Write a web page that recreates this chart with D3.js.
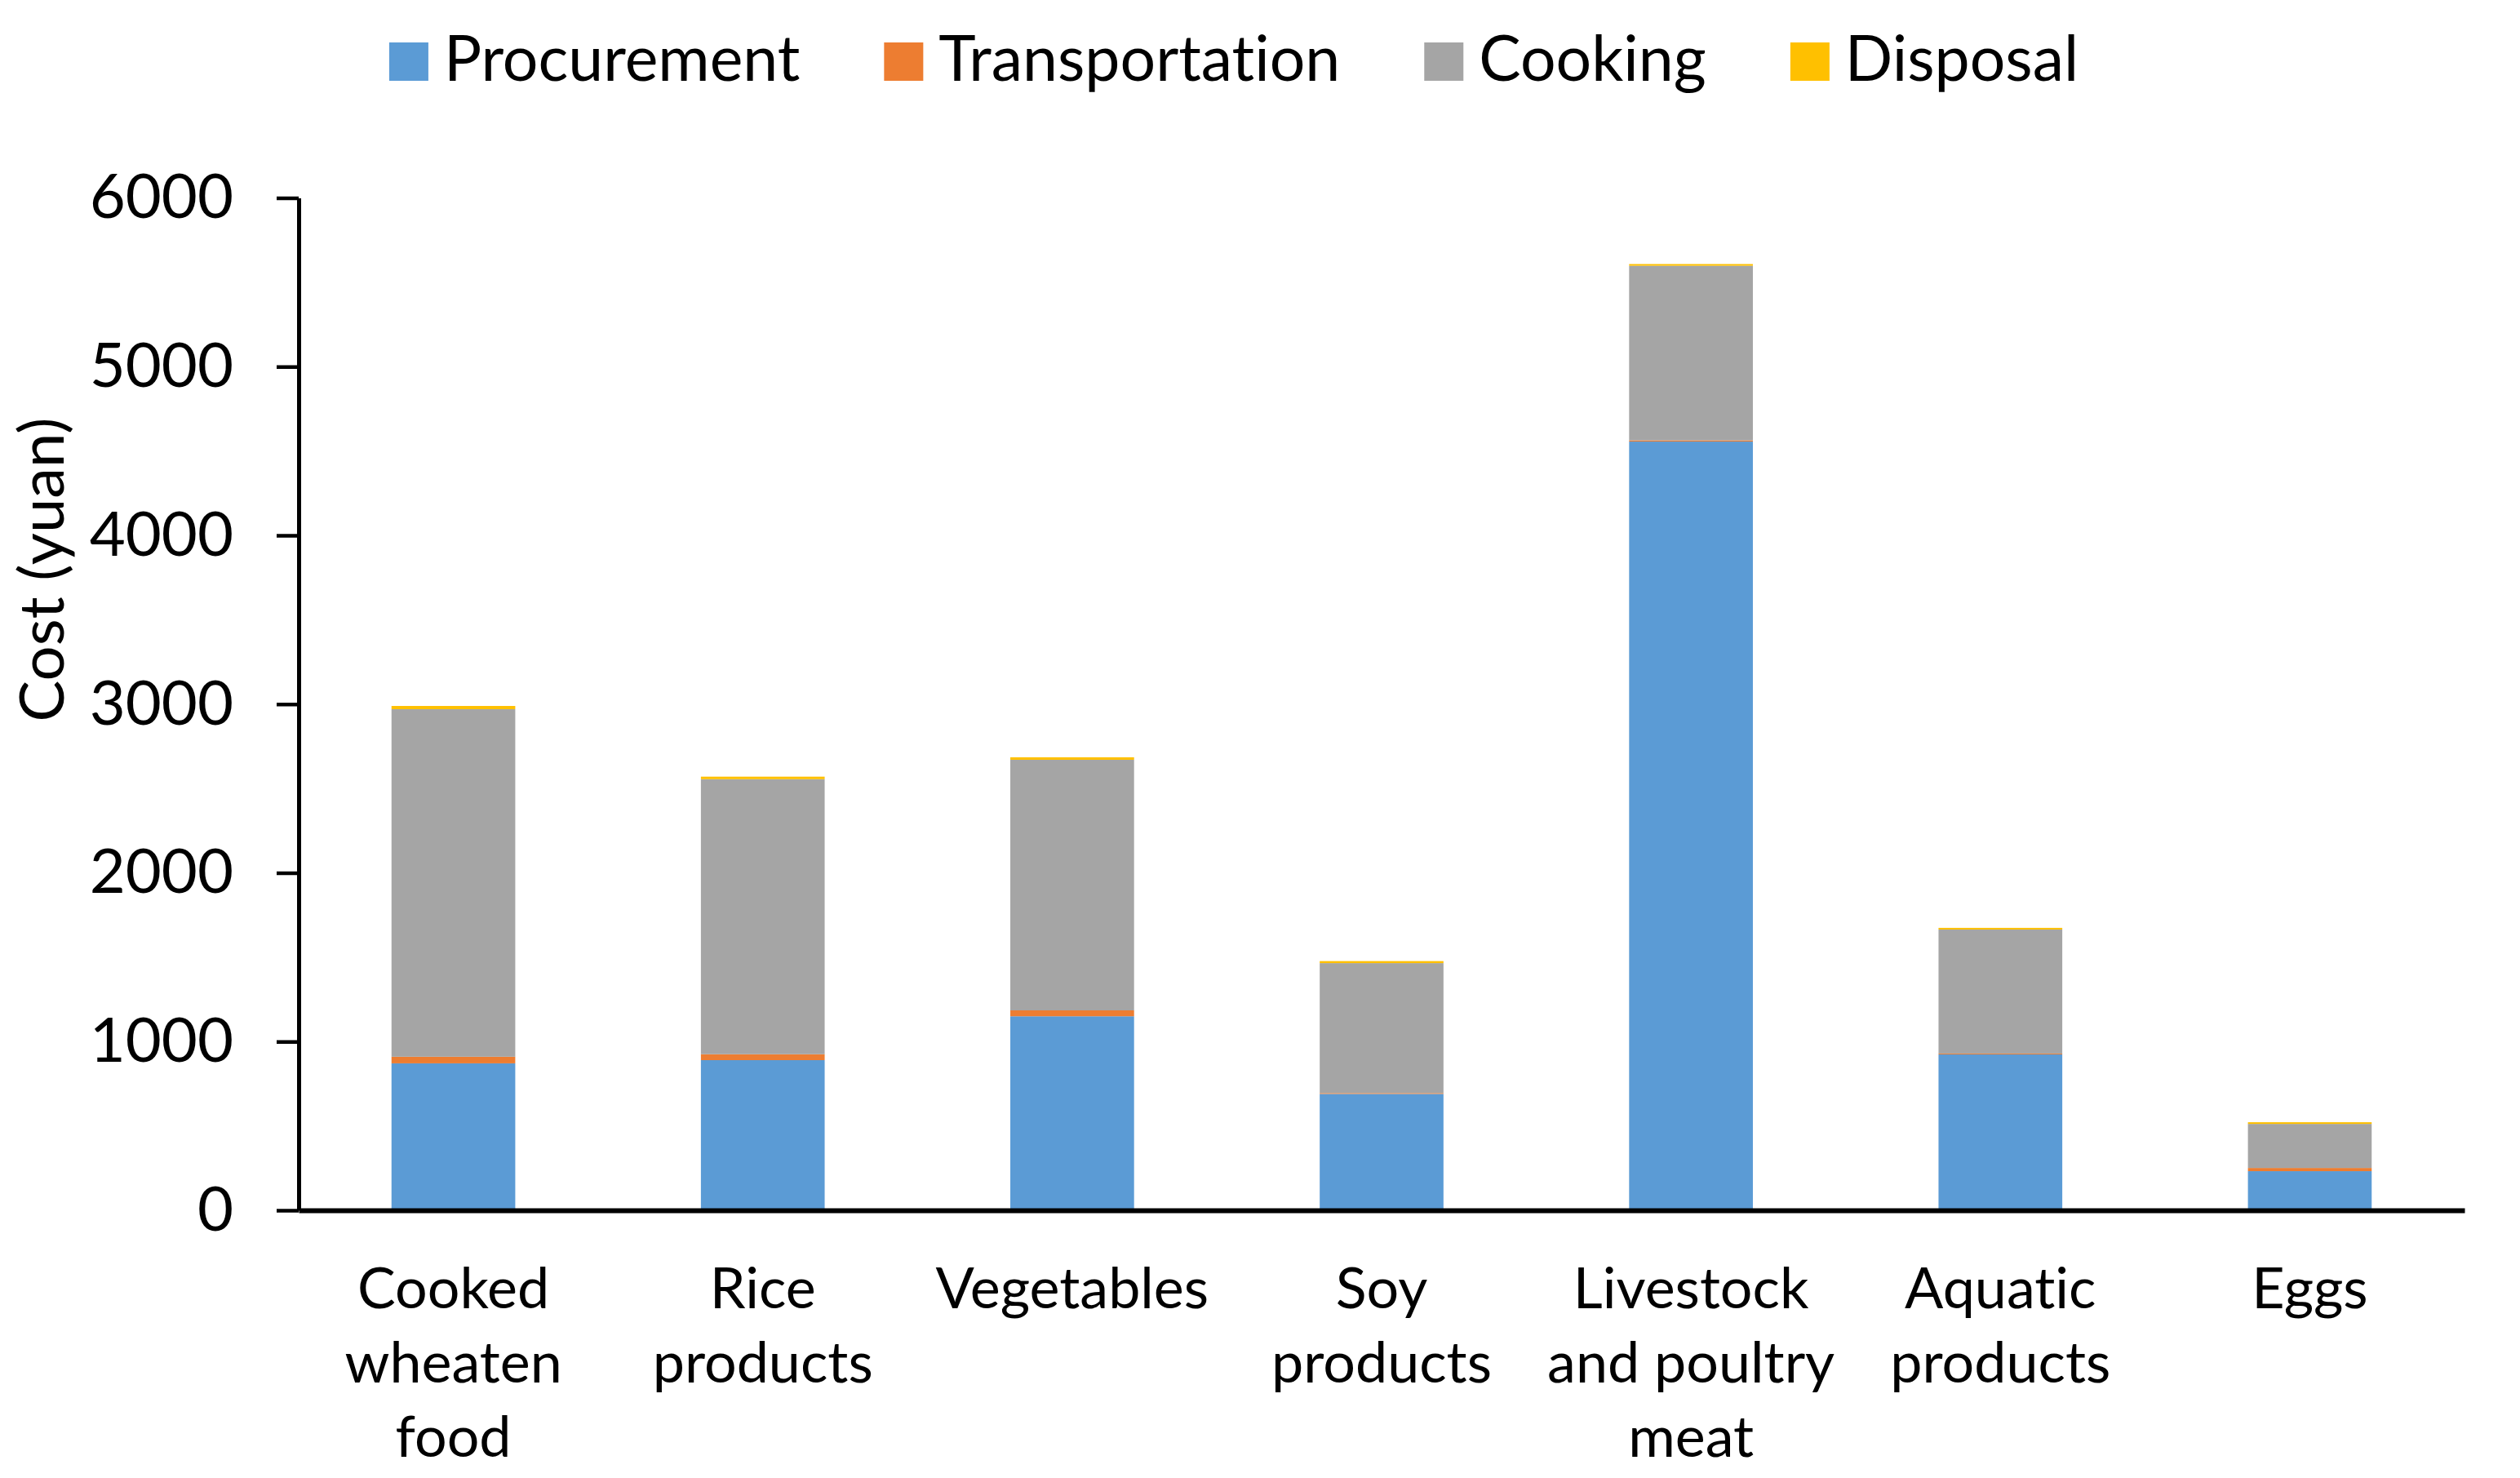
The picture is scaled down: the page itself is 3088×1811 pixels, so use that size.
<!DOCTYPE html>
<html>
<head>
<meta charset="utf-8">
<script src="https://cdn.jsdelivr.net/npm/d3@7"></script>
<style>
  body { margin: 0; background: #fff; }
  text { font-family: Lato, "Open Sans", sans-serif; fill: #000; font-variant-ligatures: none; }
</style>
</head>
<body>
<div id="chart"></div>
<script>
// chart values
var categories = ["Cooked wheaten food", "Rice products", "Vegetables", "Soy products",
  "Livestock and poultry meat", "Aquatic products", "Eggs"];
var categoryLines = [["Cooked", "wheaten", "food"], ["Rice", "products"], ["Vegetables"],
  ["Soy", "products"], ["Livestock", "and poultry", "meat"], ["Aquatic", "products"], ["Eggs"]];
var seriesNames = ["Procurement", "Transportation", "Cooking", "Disposal"];
var procurement = [871, 890, 1150, 690, 4556, 924, 232];
var transportation = [39, 35, 35, 5, 7, 5, 19];
var cooking = [2060, 1630, 1485, 770, 1035, 735, 261];
var disposal = [19, 15, 15, 12, 10, 10, 10];
var yTicks = [0, 1000, 2000, 3000, 4000, 5000, 6000];
var colors = ["#5B9BD5", "#ED7D31", "#A5A5A5", "#FFC000"];

var svgWidth = 3088;
var svgHeight = 1811;

var margin = { top: 242.5, right: 68, bottom: 328, left: 366 };
var width = svgWidth - margin.left - margin.right;
var height = svgHeight - margin.top - margin.bottom;

var svg = d3.select("#chart")
  .append("svg")
  .attr("width", svgWidth)
  .attr("height", svgHeight);

var chartGroup = svg.append("g")
  .attr("transform", `translate(${margin.left}, ${margin.top})`);

// build rows for the stack
var rows = categories.map(function(c, i) {
  return {
    category: c,
    Procurement: procurement[i],
    Transportation: transportation[i],
    Cooking: cooking[i],
    Disposal: disposal[i]
  };
});

var stacked = d3.stack().keys(seriesNames)(rows);

var xBandScale = d3.scaleBand()
  .domain(categories)
  .range([0, width])
  .paddingInner(0.6)
  .paddingOuter(0.3);

var yLinearScale = d3.scaleLinear()
  .domain([0, 6000])
  .range([height, 0]);

var color = d3.scaleOrdinal().domain(seriesNames).range(colors);

// bars
chartGroup.selectAll("g.layer")
  .data(stacked)
  .enter()
  .append("g")
  .attr("class", "layer")
  .attr("fill", d => color(d.key))
  .selectAll("rect")
  .data(d => d)
  .enter()
  .append("rect")
  .attr("x", d => xBandScale(d.data.category))
  .attr("width", xBandScale.bandwidth())
  .attr("y", d => yLinearScale(d[1]))
  .attr("height", d => yLinearScale(d[0]) - yLinearScale(d[1]));

// y axis
var leftAxis = d3.axisLeft(yLinearScale)
  .tickValues(yTicks)
  .tickSize(27)
  .tickSizeOuter(0)
  .tickPadding(53)
  .tickFormat(d3.format("d"));

var yAxis = chartGroup.append("g")
  .classed("y-axis", true)
  .call(leftAxis);

yAxis.select(".domain").attr("stroke", "#000").attr("stroke-width", 5);
yAxis.selectAll(".tick line").attr("stroke", "#000").attr("stroke-width", 4.5);
yAxis.selectAll(".tick text")
  .attr("font-family", "Lato, 'Open Sans', sans-serif")
  .attr("font-size", 76)
  .attr("fill", "#000");

// x axis
var bottomAxis = d3.axisBottom(xBandScale)
  .tickSize(0)
  .tickSizeOuter(0)
  .tickFormat("");

var xAxis = chartGroup.append("g")
  .classed("x-axis", true)
  .attr("transform", `translate(0, ${height})`)
  .call(bottomAxis);

xAxis.select(".domain").attr("stroke", "#000").attr("stroke-width", 6);

// category labels, one tspan per line
xAxis.selectAll(".tick").each(function(d, i) {
  var t = d3.select(this).append("text")
    .attr("text-anchor", "middle")
    .attr("font-size", 70)
    .attr("fill", "#000")
    .attr("y", 120);
  categoryLines[i].forEach(function(line, j) {
    t.append("tspan")
      .attr("x", 0)
      .attr("dy", j === 0 ? 0 : 91)
      .text(line);
  });
});

// y axis title
svg.append("text")
  .attr("transform", "translate(78, 698) rotate(-90)")
  .attr("text-anchor", "middle")
  .attr("font-size", 76)
  .text("Cost (yuan)");

// legend, centred at the top
var legend = svg.append("g").attr("class", "legend");
var items = legend.selectAll("g")
  .data(seriesNames)
  .enter()
  .append("g");

items.append("rect")
  .attr("width", 48)
  .attr("height", 47)
  .attr("y", 52)
  .attr("fill", d => color(d));

items.append("text")
  .attr("x", 67)
  .attr("y", 99)
  .attr("font-size", 77)
  .text(d => d);

var offsets = [];
var cursor = 0;
items.each(function() {
  offsets.push(cursor);
  var w = d3.select(this).select("text").node().getComputedTextLength();
  cursor += 67 + w + 103;
});
var totalWidth = cursor - 103;
var legendStart = 1512 - totalWidth / 2;
items.attr("transform", (d, i) => `translate(${legendStart + offsets[i]}, 0)`);
</script>
</body>
</html>
